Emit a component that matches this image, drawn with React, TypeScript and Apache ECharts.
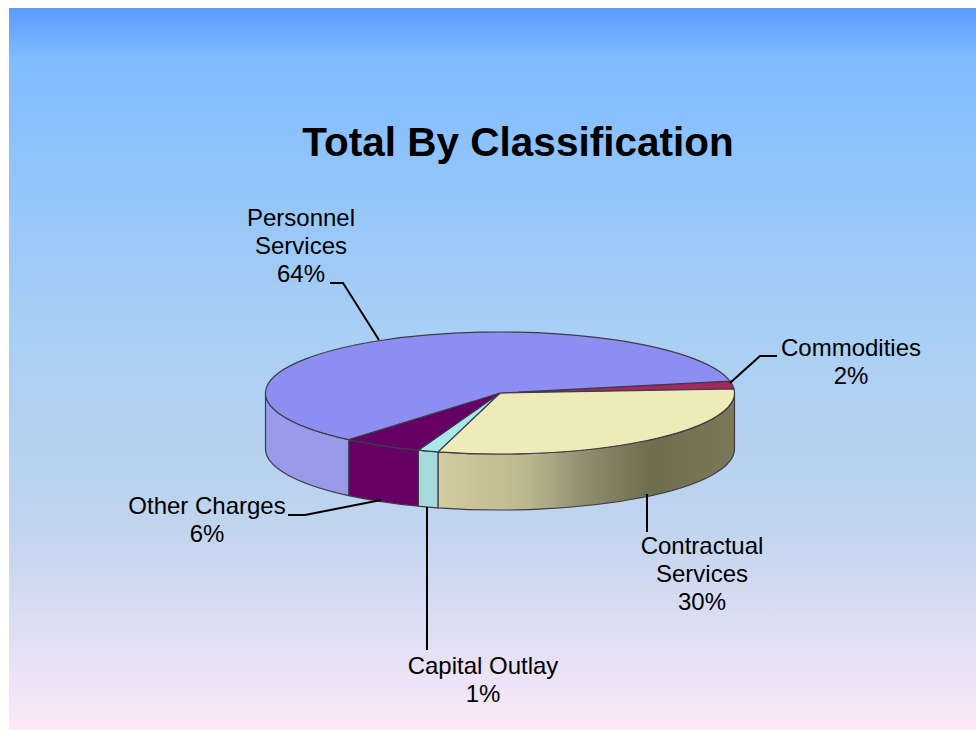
import React, { useEffect, useRef } from "react";
import * as echarts from "echarts";

const titleText = "Total By Classification";
const categories = ["Commodities", "Contractual Services", "Capital Outlay", "Other Charges", "Personnel Services"];
const labelLines = [["Commodities"], ["Contractual", "Services"], ["Capital Outlay"], ["Other Charges"], ["Personnel", "Services"]];
const percentLabels = ["2%", "30%", "1%", "6%", "64%"];
const sliceShares = [2.1, 30.3, 1.4, 5.5, 60.7];

const topColors = ["#A2285F", "#EEEBB9", "#A9E8E8", "#660066", "#8E8EF2"];
const wallColors: any[] = [
  "#7A1F48",
  {
    type: "linear", x: 0, y: 0, x2: 1, y2: 0,
    colorStops: [
      { offset: 0, color: "#D3CC9F" },
      { offset: 0.3, color: "#BDB78F" },
      { offset: 0.5, color: "#8F8C6F" },
      { offset: 0.72, color: "#6E6D50" },
      { offset: 1, color: "#7B7958" },
    ],
  },
  "#A5D9DA",
  "#660066",
  "#9A9AEA",
];

const OX = 9, OY = 8;
const CX = 500 - OX, CY = 393 - OY, RX = 234.5, RY = 61, DEPTH = 56;
const START_DEG = -11.3;
const EDGE = "#3C3C46";

const labelPos = [
  { x: 851, y: 333 },
  { x: 702, y: 531 },
  { x: 483, y: 651 },
  { x: 207, y: 491 },
  { x: 301, y: 203 },
];
const leaders = [
  [[730, 383], [760, 356], [777, 356]],
  [[647, 494], [647, 532]],
  [[427, 507], [427, 650]],
  [[381, 500], [305, 515], [288, 515]],
  [[379, 340], [343, 283], [330, 283]],
];

const pt = (deg: number, dy = 0) => {
  const r = (deg * Math.PI) / 180;
  return [CX + RX * Math.cos(r), CY + RY * Math.sin(r) + dy];
};

const arcTo = (deg0: number, deg1: number, dy: number, sweep: number) => {
  const p = pt(deg1, dy);
  const large = Math.abs(deg1 - deg0) > 180 ? 1 : 0;
  return `A ${RX} ${RY} 0 ${large} ${sweep} ${p[0]} ${p[1]}`;
};

export default function App() {
  const ref = useRef<HTMLDivElement>(null);
  useEffect(() => {
    document.body.style.overflow = "hidden";
    const chart = echarts.init(ref.current!, undefined, { renderer: "svg" });
    const total = sliceShares.reduce((a, b) => a + b, 0);
    const startOf = (i: number) =>
      START_DEG + (sliceShares.slice(0, i).reduce((a, b) => a + b, 0) / total) * 360;

    const renderItem = (params: any, api: any) => {
      const i = params.dataIndex;
      const a0 = startOf(i);
      const a1 = a0 + (api.value(1) / total) * 360;
      const children: any[] = [];
      const w0 = Math.max(a0, 0);
      const w1 = Math.min(a1, 180);
      if (w1 > w0) {
        const p0 = pt(w0);
        const p1 = pt(w1, DEPTH);
        children.push({
          type: "path",
          shape: {
            pathData: `M ${p0[0]} ${p0[1]} ${arcTo(w0, w1, 0, 1)} L ${p1[0]} ${p1[1]} ${arcTo(w1, w0, DEPTH, 0)} Z`,
          },
          style: { fill: wallColors[i], stroke: EDGE, lineWidth: 1.2 },
        });
      }
      const s = pt(a0);
      children.push({
        type: "path",
        shape: { pathData: `M ${CX} ${CY} L ${s[0]} ${s[1]} ${arcTo(a0, a1, 0, 1)} Z` },
        style: { fill: topColors[i], stroke: EDGE, lineWidth: 1.2 },
      });
      return { type: "group", children };
    };

    const graphics: any[] = [];
    leaders.forEach((points) => {
      graphics.push({
        type: "polyline",
        z: 10,
        shape: { points: points.map(([x, y]) => [x - OX, y - OY]) },
        style: { fill: "none", stroke: "#000", lineWidth: 2 },
      });
    });
    categories.forEach((_, i) => {
      graphics.push({
        type: "text",
        z: 11,
        x: labelPos[i].x - OX,
        y: labelPos[i].y - OY,
        style: {
          text: [...labelLines[i], percentLabels[i]].join("\n"),
          font: '24px "Liberation Sans", Arial, sans-serif',
          fill: "#000",
          align: "center",
          verticalAlign: "top",
          lineHeight: 28,
        },
      });
    });

    chart.setOption({
      animation: false,
      backgroundColor: {
        type: "linear", x: 0, y: 0, x2: 0, y2: 1,
        colorStops: [
          { offset: 0, color: "#5A9BFF" },
          { offset: 0.07, color: "#80BCFF" },
          { offset: 0.45, color: "#A9CFF4" },
          { offset: 0.72, color: "#C0D4EE" },
          { offset: 1, color: "#FCE8F9" },
        ],
      },
      title: {
        text: titleText,
        left: 513 - OX,
        top: 139 - OY - 23,
        textAlign: "center",
        textStyle: {
          fontFamily: '"Liberation Sans", Arial, sans-serif',
          fontSize: 40.5,
          fontWeight: "bold",
          color: "#000",
        },
      },
      series: [
        {
          type: "custom",
          coordinateSystem: "none",
          silent: true,
          clip: false,
          renderItem,
          data: sliceShares.map((v, i) => ({ name: categories[i], value: [i, v] })),
        },
      ],
      graphic: graphics,
    });
    return () => chart.dispose();
  }, []);
  return <div ref={ref} style={{ position: "fixed", left: OX, top: OY, width: 967, height: 722 }} />;
}
